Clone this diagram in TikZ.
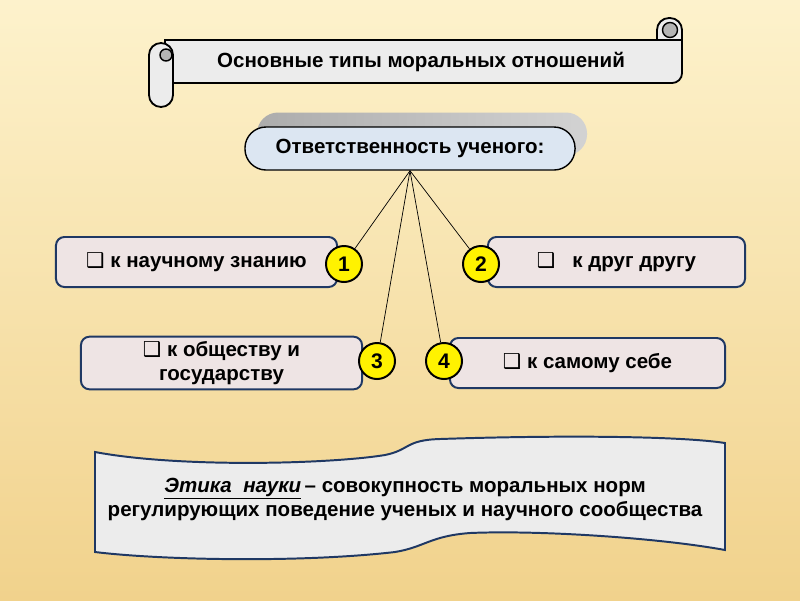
\documentclass[tikz,border=0pt]{standalone}
\usepackage{fontspec}
\setmainfont{Liberation Sans}
\newfontfamily\symfont{DejaVu Sans}
\usepackage{xcolor}
\usepackage{tikz}
\usetikzlibrary{positioning}
\definecolor{bgtop}{HTML}{FDF2CC}
\definecolor{bgbot}{HTML}{F1D28C}
\definecolor{scrollgray}{HTML}{ECECEC}
\definecolor{curlgray}{HTML}{B4B4B4}
\definecolor{pillblue}{HTML}{DCE6F2}
\definecolor{boxpink}{HTML}{EEE4E4}
\definecolor{navy}{HTML}{1F3864}
\newcommand{\qbox}{{\symfont ❑}}

\begin{document}
\begin{tikzpicture}[
  x=0.025cm, y=-0.025cm,
  every node/.style={font=\fontsize{14.6}{17}\selectfont\bfseries},
  scrollpart/.style={draw=black, line width=1.3pt, fill=scrollgray},
  resp/.style={draw=black, line width=1pt, fill=pillblue, rounded corners=15pt,
    minimum width=8.25cm, minimum height=1.075cm},
  respshadow/.style={rounded corners=15pt, left color=gray!65, right color=gray!35,
    minimum width=8.25cm, minimum height=1.075cm},
  kind/.style={draw=navy, line width=1.4pt, fill=boxpink, rounded corners=6pt,
    minimum height=1.25cm, align=center},
  num/.style={circle, draw=black, line width=1.4pt, fill=yellow,
    minimum size=0.9cm, inner sep=0pt, font=\fontsize{15}{15}\selectfont\bfseries},
  tie/.style={black, line width=0.5pt},
  wave/.style={draw=navy, line width=1.4pt, fill=scrollgray}
]
% ---- background ----
\shade[top color=bgtop, bottom color=bgbot] (0,0) rectangle (800,600);
\useasboundingbox (0,0) rectangle (800,600);

% ---- title scroll ----
\draw[scrollpart] (657,48) [rounded corners=8.5pt] -- (657,18) -- (682,18) -- (682,60) [sharp corners] -- (657,60) -- cycle;
\draw[scrollpart] (165,40) -- (682,40) [rounded corners=7pt] -- (682,83) [sharp corners] -- (165,83) -- cycle;
\fill[curlgray, draw=black, line width=1pt] (670,30) circle[radius=7.5];
\draw[scrollpart, rounded corners=8.5pt] (149,43) rectangle (173,107);
\fill[curlgray, draw=black, line width=1pt] (166,55) circle[radius=6];
\node (title) at (421,62) {Основные типы моральных отношений};

% ---- responsibility ----
\node[respshadow] (shadow) at (422,134) {};
\node[resp] (resp) at (410,148.5) {Ответственность ученого:};

% ---- four kinds ----
\node[kind, minimum width=7.025cm] (k1) at (196.5,262) {\qbox\ к научному знанию};
\node[kind, minimum width=6.425cm] (k2) at (616.5,262) {\qbox\ \ \ к друг другу};
\node[kind, minimum width=7.025cm] (k3) at (221.5,363) {\qbox\ к обществу и\\государству};
\node[kind, minimum width=6.875cm] (k4) at (587.5,363) {\qbox\ к самому себе};

\node[num] (c1) at (344,264) {1};
\node[num] (c2) at (481,264) {2};
\node[num] (c3) at (377,361) {3};
\node[num] (c4) at (444,361) {4};

\draw[tie] (resp.south) -- (c1);
\draw[tie] (resp.south) -- (c2);
\draw[tie] (resp.south) -- (c3);
\draw[tie] (resp.south) -- (c4);

% ---- ethics banner ----
\draw[wave] (95,452) .. controls (180,468) and (330,464) .. (385,455)
  .. controls (410,450) and (405,440) .. (440,439)
  .. controls (560,435) and (680,436) .. (725,443) -- (725,550)
  .. controls (660,538) and (540,530) .. (470,533)
  .. controls (430,536) and (425,547) .. (395,552)
  .. controls (300,563) and (160,560) .. (95,552) -- cycle;
\node[align=center] (ethics) at (405,499)
  {\underline{\textit{Этика\ \ науки}}\,– совокупность моральных норм\\
   регулирующих поведение ученых и научного сообщества};
\end{tikzpicture}
\end{document}
